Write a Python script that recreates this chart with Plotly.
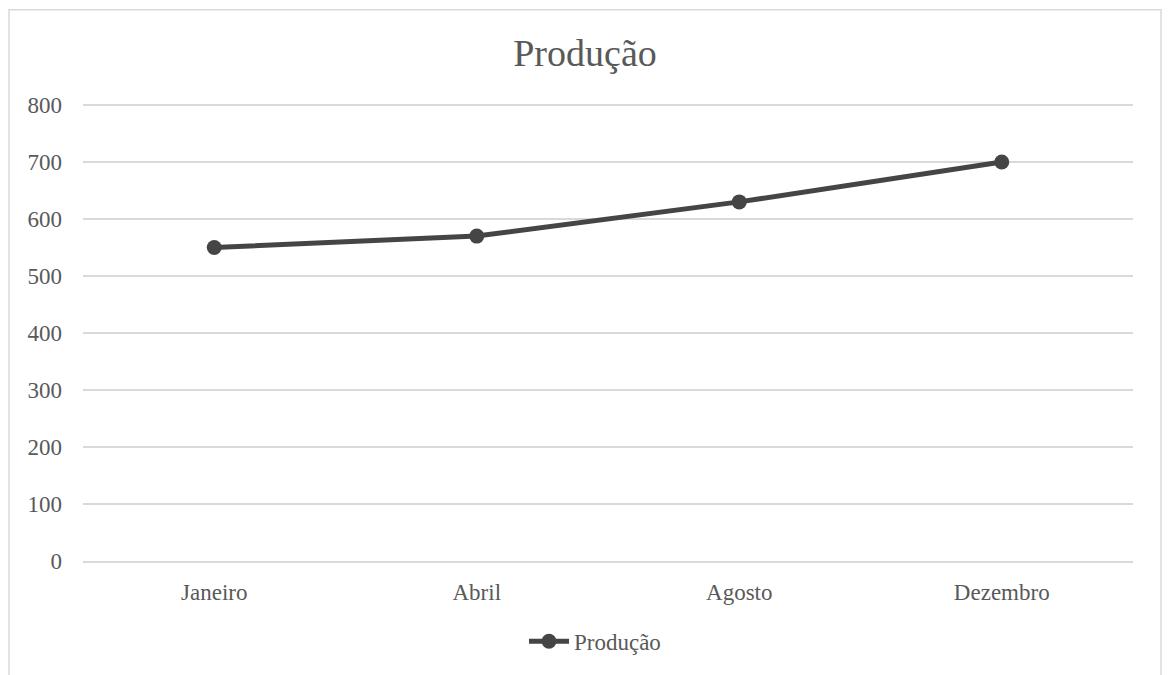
import plotly.graph_objects as go

categories = ["Janeiro", "Abril", "Agosto", "Dezembro"]
values = [550, 570, 630, 700]
series_name = "Produção"
title_text = "Produção"
y_ticks = [0, 100, 200, 300, 400, 500, 600, 700, 800]

FONT = "Liberation Serif, Times New Roman, serif"
TEXT = "#595959"
GRID = "#d9d9d9"
LINE = "#454545"

W, H = 1168, 675
L, R, T, B = 83, 35, 102, 110
pw, ph = W - L - R, H - T - B
y_top = 800 * ph / 460.0  # keep 800 at the same pixel row, a few px below the plot top

fig = go.Figure()
fig.add_trace(go.Scatter(
    x=categories, y=values, name=series_name, mode="lines+markers",
    line=dict(color=LINE, width=5),
    marker=dict(color=LINE, size=15, symbol="circle"),
))

def px_x(p):
    return (p - L) / pw

def px_y(p):
    return (H - B - p) / ph

fig.add_shape(type="rect", xref="paper", yref="paper",
              x0=px_x(9), x1=px_x(1161), y0=px_y(700), y1=px_y(9),
              line=dict(color=GRID, width=1.5), fillcolor="rgba(0,0,0,0)", layer="below")

fig.update_layout(
    width=W, height=H,
    margin=dict(l=L, r=R, t=T, b=B),
    paper_bgcolor="white", plot_bgcolor="white",
    font=dict(family=FONT, color=TEXT, size=23),
    title=dict(text=title_text, x=585 / W, xanchor="center", xref="container",
               y=1 - 53 / H, yref="container", yanchor="middle",
               font=dict(family=FONT, size=38, color=TEXT)),
    showlegend=True,
    legend=dict(orientation="h", x=px_x(595), xanchor="center", y=px_y(646), yanchor="middle",
                font=dict(family=FONT, size=23, color=TEXT), bgcolor="rgba(0,0,0,0)",
                itemwidth=40),
    xaxis=dict(type="category", range=[-0.5, 3.5], showgrid=False, showline=True,
               linecolor=GRID, linewidth=1.5, ticks="", ticklabelstandoff=10,
               tickfont=dict(family=FONT, size=23, color=TEXT), fixedrange=True),
    yaxis=dict(range=[0, y_top], tickvals=y_ticks, showgrid=True, gridcolor=GRID, gridwidth=1.5,
               zeroline=False, showline=False, ticks="", ticklabelstandoff=20,
               tickfont=dict(family=FONT, size=23, color=TEXT), fixedrange=True),
)

fig.write_html("out.html")
